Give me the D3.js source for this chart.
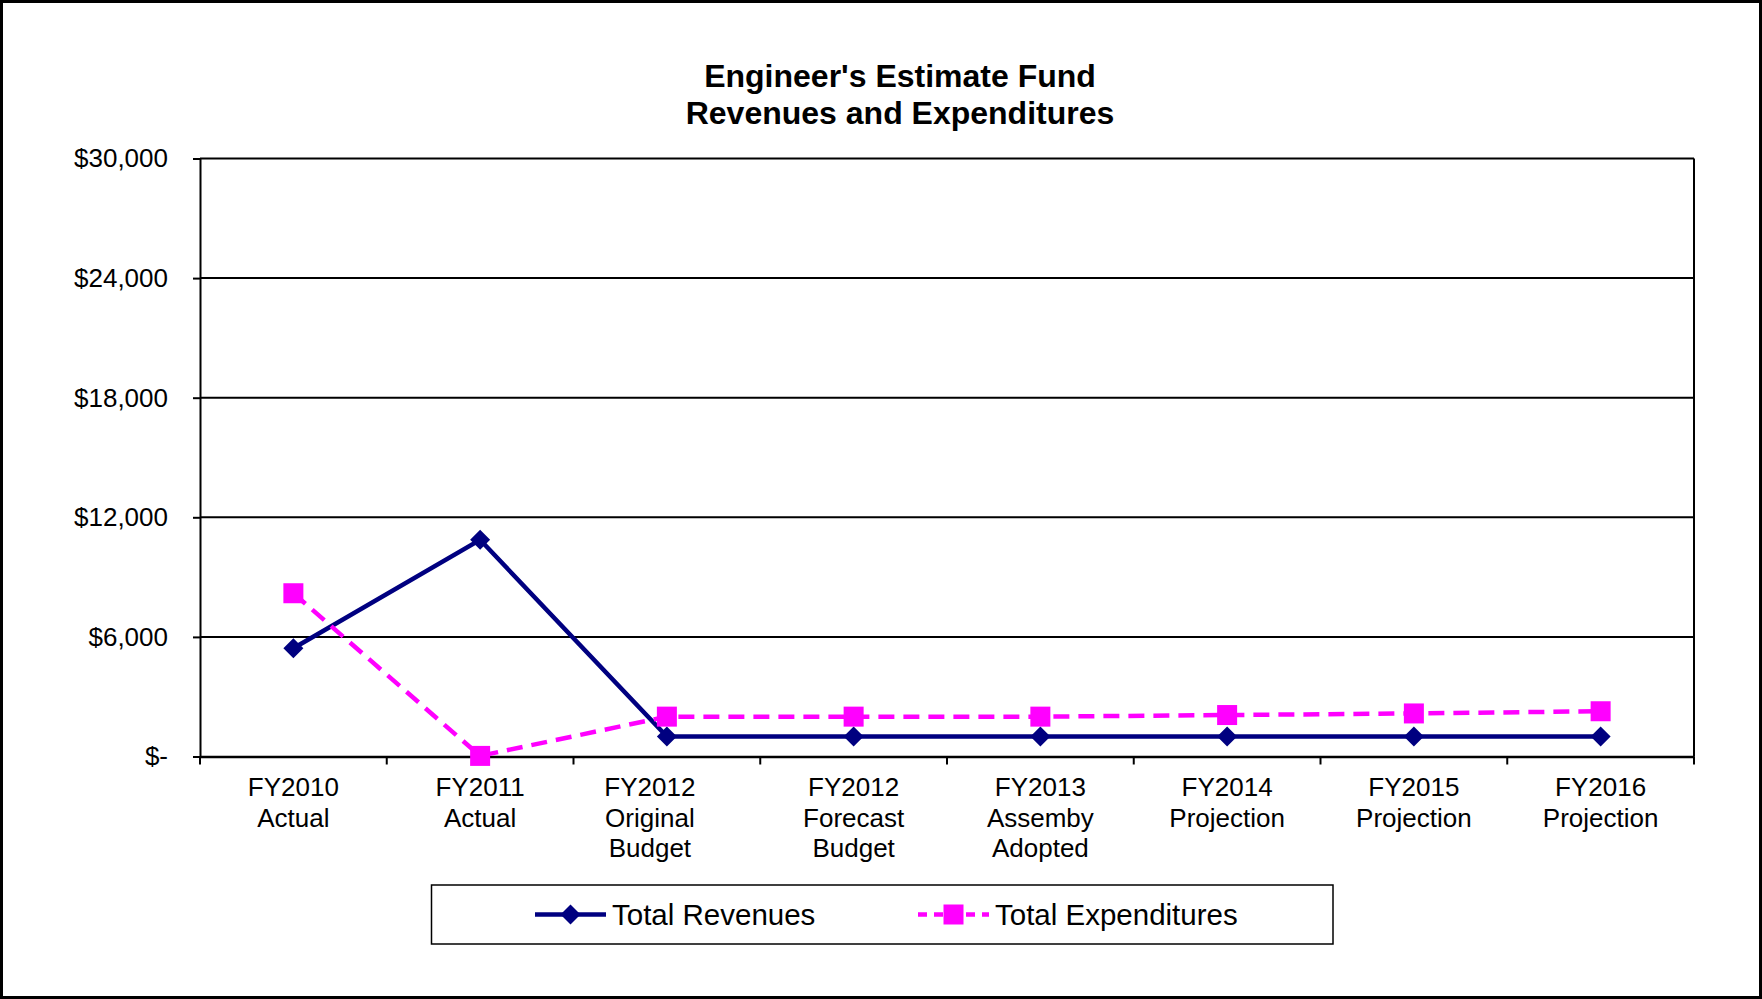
<!DOCTYPE html>
<html>
<head>
<meta charset="utf-8">
<script src="https://cdn.jsdelivr.net/npm/d3@7"></script>
<style>
  html, body { margin: 0; padding: 0; background: #fff; }
  svg { display: block; font-family: Arial, "Liberation Sans", sans-serif; }
</style>
</head>
<body>
<svg id="chart" width="1762" height="999"></svg>
<script>
// Fiscal-year categories (each label is split onto lines)
const categories = [
  ["FY2010", "Actual"],
  ["FY2011", "Actual"],
  ["FY2012", "Original", "Budget"],
  ["FY2012", "Forecast", "Budget"],
  ["FY2013", "Assemby", "Adopted"],
  ["FY2014", "Projection"],
  ["FY2015", "Projection"],
  ["FY2016", "Projection"]
];
const totalRevenues     = [5430, 10870, 1000, 1000, 1000, 1000, 1000, 1000];
const totalExpenditures = [8190, 30, 2000, 2000, 2000, 2080, 2160, 2270];
const yTicks = [0, 6000, 12000, 18000, 24000, 30000];
const titleLines = ["Engineer's Estimate Fund", "Revenues and Expenditures"];
const seriesNames = ["Total Revenues", "Total Expenditures"];

const svg = d3.select("#chart");
const W = 1762, H = 999;
const plot = { left: 200, right: 1694, top: 158.5, bottom: 756.5 };

// outer frame
svg.append("rect")
  .attr("x", 1.5).attr("y", 1.5).attr("width", W - 3).attr("height", H - 3)
  .attr("fill", "#fff").attr("stroke", "#000").attr("stroke-width", 3);

// title
svg.append("text")
  .attr("text-anchor", "middle")
  .attr("font-weight", "bold").attr("font-size", 32)
  .selectAll("tspan").data(titleLines).join("tspan")
  .attr("x", 900).attr("y", (d, i) => 87 + i * 37)
  .text(d => d);

const labels = categories.map(c => c.join(" "));
const x = d3.scaleBand().domain(labels).range([plot.left, plot.right]);
const y = d3.scaleLinear().domain([0, 30000]).range([plot.bottom, plot.top]);
const cx = i => x(labels[i]) + x.bandwidth() / 2;

// horizontal gridlines
svg.append("g").selectAll("line").data(yTicks.filter(t => t > 0)).join("line")
  .attr("x1", plot.left).attr("x2", plot.right)
  .attr("y1", d => y(d)).attr("y2", d => y(d))
  .attr("stroke", "#000").attr("stroke-width", 2);

// right border of the plot area
svg.append("line")
  .attr("x1", plot.right).attr("x2", plot.right)
  .attr("y1", plot.top).attr("y2", plot.bottom)
  .attr("stroke", "#000").attr("stroke-width", 2);

// y axis
const fmt = v => v === 0 ? "$-" : "$" + d3.format(",")(v);
const yAxis = svg.append("g")
  .attr("transform", `translate(${plot.left},0)`)
  .call(d3.axisLeft(y).tickValues(yTicks).tickFormat(fmt).tickSize(7).tickPadding(25));
yAxis.select(".domain").attr("stroke", "#000").attr("stroke-width", 2);
yAxis.selectAll(".tick line").attr("stroke-width", 2);
yAxis.selectAll(".tick text")
  .attr("font-size", 26).attr("fill", "#000")
  .attr("font-family", "Arial, 'Liberation Sans', sans-serif");

// x axis with ticks on category boundaries
const xAxis = svg.append("g")
  .attr("transform", `translate(0,${plot.bottom})`)
  .call(d3.axisBottom(x).tickSize(0).tickFormat(""));
xAxis.select(".domain").attr("stroke", "#000").attr("stroke-width", 2.5);
const bounds = d3.range(labels.length + 1).map(i => plot.left + i * x.bandwidth());
svg.append("g").selectAll("line").data(bounds).join("line")
  .attr("x1", d => d).attr("x2", d => d)
  .attr("y1", plot.bottom).attr("y2", plot.bottom + 8)
  .attr("stroke", "#000").attr("stroke-width", 2);

// category labels (the three-line "Original Budget" label sits a little left of its slot)
const labelNudge = i => (i === 2 ? -17 : 0);
svg.append("g").selectAll("text").data(categories).join("text")
  .attr("text-anchor", "middle").attr("font-size", 26)
  .each(function (lines, i) {
    d3.select(this).selectAll("tspan").data(lines).join("tspan")
      .attr("x", cx(i) + labelNudge(i)).attr("y", (d, k) => 796 + k * 30.5)
      .text(d => d);
  });

// series lines
const line = d3.line().x((d, i) => cx(i)).y(d => y(d));
svg.append("path").datum(totalRevenues)
  .attr("d", line).attr("fill", "none")
  .attr("stroke", "#000080").attr("stroke-width", 4.5);
svg.append("path").datum(totalExpenditures)
  .attr("d", line).attr("fill", "none")
  .attr("stroke", "#FF00FF").attr("stroke-width", 4.5)
  .attr("stroke-dasharray", "16,9");

// markers
const diamond = (px, py, r) => `M${px},${py - r}L${px + r},${py}L${px},${py + r}L${px - r},${py}Z`;
svg.append("g").selectAll("path").data(totalRevenues).join("path")
  .attr("d", (d, i) => diamond(cx(i), y(d), 10))
  .attr("fill", "#000080");
svg.append("g").selectAll("rect").data(totalExpenditures).join("rect")
  .attr("x", (d, i) => cx(i) - 10).attr("y", d => y(d) - 10)
  .attr("width", 20).attr("height", 20)
  .attr("fill", "#FF00FF");

// legend
const lg = svg.append("g");
lg.append("rect")
  .attr("x", 431.5).attr("y", 885).attr("width", 901.5).attr("height", 59)
  .attr("fill", "#fff").attr("stroke", "#000").attr("stroke-width", 1.5);
const legendItems = [
  { name: seriesNames[0], x0: 535, color: "#000080", dash: null, marker: "diamond" },
  { name: seriesNames[1], x0: 918, color: "#FF00FF", dash: "9,7", marker: "square" }
];
const ly = 914.5;
legendItems.forEach(it => {
  lg.append("line")
    .attr("x1", it.x0).attr("x2", it.x0 + 71)
    .attr("y1", ly).attr("y2", ly)
    .attr("stroke", it.color).attr("stroke-width", 4.5)
    .attr("stroke-dasharray", it.dash);
  const mx = it.x0 + 35.5;
  if (it.marker === "diamond") {
    lg.append("path").attr("d", diamond(mx, ly, 10)).attr("fill", it.color);
  } else {
    lg.append("rect").attr("x", mx - 10).attr("y", ly - 10)
      .attr("width", 20).attr("height", 20).attr("fill", it.color);
  }
  lg.append("text")
    .attr("x", it.x0 + 77).attr("y", ly + 10)
    .attr("font-size", 29.5).attr("fill", "#000")
    .text(it.name);
});
</script>
</body>
</html>
